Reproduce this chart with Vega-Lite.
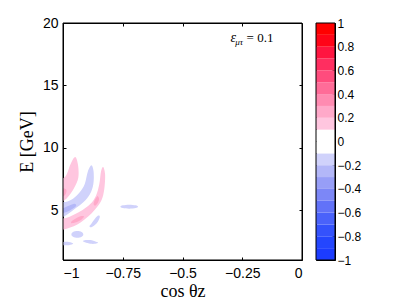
{
  "$schema": "https://vega.github.io/schema/vega-lite/v6.json",
  "padding": {"left": 17, "top": 15, "right": 5, "bottom": 0},
  "datasets": {
    "outer": [
      {"id": "P1", "i": 0, "x": -0.949, "y": 9.25, "v": 0.15},
      {"id": "P1", "i": 1, "x": -0.937, "y": 8.6, "v": 0.15},
      {"id": "P1", "i": 2, "x": -0.936, "y": 7.6, "v": 0.15},
      {"id": "P1", "i": 3, "x": -0.953, "y": 6.8, "v": 0.15},
      {"id": "P1", "i": 4, "x": -0.975, "y": 6.15, "v": 0.15},
      {"id": "P1", "i": 5, "x": -0.998, "y": 5.75, "v": 0.15},
      {"id": "P1", "i": 6, "x": -1.03, "y": 5.6, "v": 0.15},
      {"id": "P1", "i": 7, "x": -1.03, "y": 7.2, "v": 0.15},
      {"id": "P1", "i": 8, "x": -0.99, "y": 7.7, "v": 0.15},
      {"id": "P1", "i": 9, "x": -0.968, "y": 8.7, "v": 0.15},
      {"id": "B1", "i": 0, "x": -0.881, "y": 8.6, "v": -0.15},
      {"id": "B1", "i": 1, "x": -0.872, "y": 8.1, "v": -0.15},
      {"id": "B1", "i": 2, "x": -0.873, "y": 7.1, "v": -0.15},
      {"id": "B1", "i": 3, "x": -0.887, "y": 6.3, "v": -0.15},
      {"id": "B1", "i": 4, "x": -0.915, "y": 5.62, "v": -0.15},
      {"id": "B1", "i": 5, "x": -0.95, "y": 5.1, "v": -0.15},
      {"id": "B1", "i": 6, "x": -0.978, "y": 4.7, "v": -0.15},
      {"id": "B1", "i": 7, "x": -1.0, "y": 4.45, "v": -0.15},
      {"id": "B1", "i": 8, "x": -1.03, "y": 4.4, "v": -0.15},
      {"id": "B1", "i": 9, "x": -1.03, "y": 5.6, "v": -0.15},
      {"id": "B1", "i": 10, "x": -0.99, "y": 5.65, "v": -0.15},
      {"id": "B1", "i": 11, "x": -0.958, "y": 5.92, "v": -0.15},
      {"id": "B1", "i": 12, "x": -0.93, "y": 6.43, "v": -0.15},
      {"id": "B1", "i": 13, "x": -0.909, "y": 7.1, "v": -0.15},
      {"id": "B1", "i": 14, "x": -0.896, "y": 8.1, "v": -0.15},
      {"id": "P2", "i": 0, "x": -0.832, "y": 8.45, "v": 0.15},
      {"id": "P2", "i": 1, "x": -0.824, "y": 7.9, "v": 0.15},
      {"id": "P2", "i": 2, "x": -0.826, "y": 6.9, "v": 0.15},
      {"id": "P2", "i": 3, "x": -0.835, "y": 6.0, "v": 0.15},
      {"id": "P2", "i": 4, "x": -0.855, "y": 5.3, "v": 0.15},
      {"id": "P2", "i": 5, "x": -0.88, "y": 4.75, "v": 0.15},
      {"id": "P2", "i": 6, "x": -0.91, "y": 4.25, "v": 0.15},
      {"id": "P2", "i": 7, "x": -0.94, "y": 3.85, "v": 0.15},
      {"id": "P2", "i": 8, "x": -0.97, "y": 3.6, "v": 0.15},
      {"id": "P2", "i": 9, "x": -1.0, "y": 3.42, "v": 0.15},
      {"id": "P2", "i": 10, "x": -1.03, "y": 3.35, "v": 0.15},
      {"id": "P2", "i": 11, "x": -1.03, "y": 4.3, "v": 0.15},
      {"id": "P2", "i": 12, "x": -0.99, "y": 4.35, "v": 0.15},
      {"id": "P2", "i": 13, "x": -0.955, "y": 4.62, "v": 0.15},
      {"id": "P2", "i": 14, "x": -0.918, "y": 5.0, "v": 0.15},
      {"id": "P2", "i": 15, "x": -0.885, "y": 5.5, "v": 0.15},
      {"id": "P2", "i": 16, "x": -0.862, "y": 6.16, "v": 0.15},
      {"id": "P2", "i": 17, "x": -0.848, "y": 7.1, "v": 0.15},
      {"id": "P2", "i": 18, "x": -0.841, "y": 8.1, "v": 0.15},
      {"id": "C", "i": 0, "x": -0.884, "y": 3.62, "v": -0.15},
      {"id": "C", "i": 1, "x": -0.872, "y": 3.72, "v": -0.15},
      {"id": "C", "i": 2, "x": -0.855, "y": 4.05, "v": -0.15},
      {"id": "C", "i": 3, "x": -0.846, "y": 4.45, "v": -0.15},
      {"id": "C", "i": 4, "x": -0.852, "y": 4.56, "v": -0.15},
      {"id": "C", "i": 5, "x": -0.865, "y": 4.35, "v": -0.15},
      {"id": "C", "i": 6, "x": -0.88, "y": 3.95, "v": -0.15},
      {"id": "C", "i": 7, "x": -0.889, "y": 3.72, "v": -0.15},
      {"id": "D", "i": 0, "x": -0.965, "y": 3.05, "v": -0.15},
      {"id": "D", "i": 1, "x": -0.958, "y": 3.24, "v": -0.15},
      {"id": "D", "i": 2, "x": -0.94, "y": 3.32, "v": -0.15},
      {"id": "D", "i": 3, "x": -0.922, "y": 3.24, "v": -0.15},
      {"id": "D", "i": 4, "x": -0.915, "y": 3.05, "v": -0.15},
      {"id": "D", "i": 5, "x": -0.922, "y": 2.86, "v": -0.15},
      {"id": "D", "i": 6, "x": -0.94, "y": 2.78, "v": -0.15},
      {"id": "D", "i": 7, "x": -0.958, "y": 2.86, "v": -0.15},
      {"id": "E", "i": 0, "x": -0.917, "y": 2.52, "v": -0.15},
      {"id": "E", "i": 1, "x": -0.905, "y": 2.6, "v": -0.15},
      {"id": "E", "i": 2, "x": -0.885, "y": 2.6, "v": -0.15},
      {"id": "E", "i": 3, "x": -0.862, "y": 2.47, "v": -0.15},
      {"id": "E", "i": 4, "x": -0.853, "y": 2.38, "v": -0.15},
      {"id": "E", "i": 5, "x": -0.865, "y": 2.3, "v": -0.15},
      {"id": "E", "i": 6, "x": -0.885, "y": 2.3, "v": -0.15},
      {"id": "E", "i": 7, "x": -0.908, "y": 2.42, "v": -0.15},
      {"id": "F", "i": 0, "x": -1.02, "y": 2.32, "v": -0.15},
      {"id": "F", "i": 1, "x": -1.0, "y": 2.45, "v": -0.15},
      {"id": "F", "i": 2, "x": -0.975, "y": 2.45, "v": -0.15},
      {"id": "F", "i": 3, "x": -0.957, "y": 2.32, "v": -0.15},
      {"id": "F", "i": 4, "x": -0.975, "y": 2.19, "v": -0.15},
      {"id": "F", "i": 5, "x": -1.0, "y": 2.19, "v": -0.15},
      {"id": "G", "i": 0, "x": -0.76, "y": 5.27, "v": -0.15},
      {"id": "G", "i": 1, "x": -0.75, "y": 5.38, "v": -0.15},
      {"id": "G", "i": 2, "x": -0.723, "y": 5.43, "v": -0.15},
      {"id": "G", "i": 3, "x": -0.696, "y": 5.38, "v": -0.15},
      {"id": "G", "i": 4, "x": -0.686, "y": 5.27, "v": -0.15},
      {"id": "G", "i": 5, "x": -0.696, "y": 5.16, "v": -0.15},
      {"id": "G", "i": 6, "x": -0.723, "y": 5.11, "v": -0.15},
      {"id": "G", "i": 7, "x": -0.75, "y": 5.16, "v": -0.15}
    ],
    "inner": [
      {"id": "P1d", "i": 0, "x": -1.02, "y": 6.05, "v": 0.25},
      {"id": "P1d", "i": 1, "x": -0.995, "y": 6.15, "v": 0.25},
      {"id": "P1d", "i": 2, "x": -0.986, "y": 6.45, "v": 0.25},
      {"id": "P1d", "i": 3, "x": -0.99, "y": 6.7, "v": 0.25},
      {"id": "P1d", "i": 4, "x": -1.02, "y": 6.7, "v": 0.25},
      {"id": "B1d", "i": 0, "x": -1.02, "y": 4.7, "v": -0.25},
      {"id": "B1d", "i": 1, "x": -0.985, "y": 4.85, "v": -0.25},
      {"id": "B1d", "i": 2, "x": -0.96, "y": 5.1, "v": -0.25},
      {"id": "B1d", "i": 3, "x": -0.945, "y": 5.35, "v": -0.25},
      {"id": "B1d", "i": 4, "x": -0.952, "y": 5.5, "v": -0.25},
      {"id": "B1d", "i": 5, "x": -0.975, "y": 5.35, "v": -0.25},
      {"id": "B1d", "i": 6, "x": -1.0, "y": 5.15, "v": -0.25},
      {"id": "B1d", "i": 7, "x": -1.02, "y": 5.1, "v": -0.25},
      {"id": "Pa", "i": 0, "x": -0.853, "y": 6.1, "v": 0.25},
      {"id": "Pa", "i": 1, "x": -0.849, "y": 5.85, "v": 0.25},
      {"id": "Pa", "i": 2, "x": -0.857, "y": 5.5, "v": 0.25},
      {"id": "Pa", "i": 3, "x": -0.866, "y": 5.35, "v": 0.25},
      {"id": "Pa", "i": 4, "x": -0.872, "y": 5.5, "v": 0.25},
      {"id": "Pa", "i": 5, "x": -0.866, "y": 5.85, "v": 0.25},
      {"id": "Pa", "i": 6, "x": -0.858, "y": 6.08, "v": 0.25},
      {"id": "Pb", "i": 0, "x": -0.965, "y": 3.95, "v": 0.25},
      {"id": "Pb", "i": 1, "x": -0.945, "y": 4.02, "v": 0.25},
      {"id": "Pb", "i": 2, "x": -0.922, "y": 4.25, "v": 0.25},
      {"id": "Pb", "i": 3, "x": -0.912, "y": 4.48, "v": 0.25},
      {"id": "Pb", "i": 4, "x": -0.922, "y": 4.52, "v": 0.25},
      {"id": "Pb", "i": 5, "x": -0.945, "y": 4.35, "v": 0.25},
      {"id": "Pb", "i": 6, "x": -0.963, "y": 4.12, "v": 0.25}
    ],
    "bar": [
      {"lo": -1.0, "hi": -0.9, "mid": -0.95},
      {"lo": -0.9, "hi": -0.8, "mid": -0.85},
      {"lo": -0.8, "hi": -0.7, "mid": -0.75},
      {"lo": -0.7, "hi": -0.6, "mid": -0.65},
      {"lo": -0.6, "hi": -0.5, "mid": -0.55},
      {"lo": -0.5, "hi": -0.4, "mid": -0.45},
      {"lo": -0.4, "hi": -0.3, "mid": -0.35},
      {"lo": -0.3, "hi": -0.2, "mid": -0.25},
      {"lo": -0.2, "hi": -0.1, "mid": -0.15},
      {"lo": -0.1, "hi": 0.0, "mid": -0.05},
      {"lo": 0.0, "hi": 0.1, "mid": 0.05},
      {"lo": 0.1, "hi": 0.2, "mid": 0.15},
      {"lo": 0.2, "hi": 0.3, "mid": 0.25},
      {"lo": 0.3, "hi": 0.4, "mid": 0.35},
      {"lo": 0.4, "hi": 0.5, "mid": 0.45},
      {"lo": 0.5, "hi": 0.6, "mid": 0.55},
      {"lo": 0.6, "hi": 0.7, "mid": 0.65},
      {"lo": 0.7, "hi": 0.8, "mid": 0.75},
      {"lo": 0.8, "hi": 0.9, "mid": 0.85},
      {"lo": 0.9, "hi": 1.0, "mid": 0.95}
    ]
  },
  "config": {
    "view": {"stroke": "black", "strokeWidth": 1},
    "axis": {
      "labelFont": "Liberation Sans",
      "labelColor": "black",
      "labelFontSize": 14,
      "tickColor": "black",
      "grid": false,
      "domain": false,
      "titleFont": "Liberation Serif",
      "titleFontWeight": "normal",
      "titleColor": "black",
      "titleFontSize": 18
    }
  },
  "spacing": 12,
  "hconcat": [
    {
      "width": 239,
      "height": 237,
      "resolve": {"axis": {"x": "independent", "y": "independent"}},
      "layer": [
        {
          "data": {"name": "outer"},
          "mark": {"type": "line", "filled": true, "interpolate": "cardinal-closed", "clip": true, "strokeWidth": 0},
          "encoding": {
            "x": {"field": "x", "type": "quantitative", "scale": {"domain": [-1, 0], "nice": false, "zero": false},
                  "axis": {"values": [-1, -0.75, -0.5, -0.25, 0], "format": ".2~f", "tickSize": -3, "labelPadding": 9, "title": "cos θz", "titlePadding": 2}},
            "y": {"field": "y", "type": "quantitative", "scale": {"domain": [1, 20], "nice": false, "zero": false},
                  "axis": {"values": [5, 10, 15, 20], "format": "d", "tickSize": -3, "labelPadding": 8, "title": "E [GeV]", "titlePadding": 6}},
            "color": {"field": "v", "type": "quantitative", "legend": null,
                      "scale": {"type": "threshold", "domain": [-0.9, -0.8, -0.7, -0.6, -0.5, -0.4, -0.3, -0.2, -0.1, 0, 0.1, 0.2, 0.3, 0.4, 0.5, 0.6, 0.7, 0.8, 0.9],
                                "range": ["#1c3cff", "#2446fe", "#3452fc", "#4a62fa", "#6272f8", "#7c87f7", "#979ef7", "#b3b7f8", "#d0d2fb", "#ffffff", "#ffffff", "#ffc6df", "#ffa9c9", "#ff8bb1", "#ff6c98", "#ff4c7d", "#ff2e60", "#ff1540", "#ff0418", "#ff0000"]}},
            "detail": {"field": "id", "type": "nominal"},
            "order": {"field": "i", "type": "quantitative"}
          }
        },
        {
          "data": {"name": "inner"},
          "mark": {"type": "line", "filled": true, "interpolate": "cardinal-closed", "clip": true, "strokeWidth": 0},
          "encoding": {
            "x": {"field": "x", "type": "quantitative", "axis": null},
            "y": {"field": "y", "type": "quantitative", "axis": null},
            "color": {"field": "v", "type": "quantitative", "legend": null,
                      "scale": {"type": "threshold", "domain": [-0.9, -0.8, -0.7, -0.6, -0.5, -0.4, -0.3, -0.2, -0.1, 0, 0.1, 0.2, 0.3, 0.4, 0.5, 0.6, 0.7, 0.8, 0.9],
                                "range": ["#1c3cff", "#2446fe", "#3452fc", "#4a62fa", "#6272f8", "#7c87f7", "#979ef7", "#b3b7f8", "#d0d2fb", "#ffffff", "#ffffff", "#ffc6df", "#ffa9c9", "#ff8bb1", "#ff6c98", "#ff4c7d", "#ff2e60", "#ff1540", "#ff0418", "#ff0000"]}},
            "detail": {"field": "id", "type": "nominal"},
            "order": {"field": "i", "type": "quantitative"}
          }
        },
        {
          "data": {"values": [{"x0": -1, "x1": 0, "y0": 1, "y1": 20}]},
          "mark": {"type": "rect", "fill": null, "stroke": "black", "strokeWidth": 1},
          "encoding": {
            "x": {"field": "x0", "type": "quantitative", "axis": null},
            "x2": {"field": "x1"},
            "y": {"field": "y0", "type": "quantitative", "axis": null},
            "y2": {"field": "y1"}
          }
        },
        {
          "data": {"values": [{"x": -0.299, "y": 18.45, "t": "ε"}]},
          "mark": {"type": "text", "font": "Liberation Serif", "fontStyle": "italic", "fontSize": 14, "align": "left", "baseline": "alphabetic", "color": "black"},
          "encoding": {
            "x": {"field": "x", "type": "quantitative", "axis": null},
            "y": {"field": "y", "type": "quantitative", "axis": null},
            "text": {"field": "t"}
          }
        },
        {
          "data": {"values": [{"x": -0.279, "y": 18.2, "t": "μτ"}]},
          "mark": {"type": "text", "font": "Liberation Serif", "fontStyle": "italic", "fontSize": 9, "align": "left", "baseline": "alphabetic", "color": "black"},
          "encoding": {
            "x": {"field": "x", "type": "quantitative", "axis": null},
            "y": {"field": "y", "type": "quantitative", "axis": null},
            "text": {"field": "t"}
          }
        },
        {
          "data": {"values": [{"x": -0.232, "y": 18.45, "t": "= 0.1"}]},
          "mark": {"type": "text", "font": "Liberation Serif", "fontSize": 13, "align": "left", "baseline": "alphabetic", "color": "black"},
          "encoding": {
            "x": {"field": "x", "type": "quantitative", "axis": {"orient": "top", "values": [-0.75, -0.5, -0.25], "labels": false, "title": null, "tickSize": -3}},
            "y": {"field": "y", "type": "quantitative", "axis": {"orient": "right", "values": [5, 10, 15], "labels": false, "title": null, "tickSize": -3}},
            "text": {"field": "t"}
          }
        }
      ]
    },
    {
      "width": 19,
      "height": 237,
      "resolve": {"axis": {"y": "independent"}},
      "layer": [
        {
          "data": {"name": "bar"},
          "mark": {"type": "rect"},
          "encoding": {
            "y": {"field": "lo", "type": "quantitative", "scale": {"domain": [-1, 1], "nice": false, "zero": false},
                  "axis": {"orient": "right", "values": [-1, -0.8, -0.6, -0.4, -0.2, 0, 0.2, 0.4, 0.6, 0.8, 1], "format": ".1~f", "labelFontSize": 12, "labelOverlap": false, "tickSize": -3, "labelPadding": 5, "title": null}},
            "y2": {"field": "hi"},
            "color": {"field": "mid", "type": "quantitative", "legend": null,
                      "scale": {"type": "threshold", "domain": [-0.9, -0.8, -0.7, -0.6, -0.5, -0.4, -0.3, -0.2, -0.1, 0, 0.1, 0.2, 0.3, 0.4, 0.5, 0.6, 0.7, 0.8, 0.9],
                                "range": ["#1c3cff", "#2446fe", "#3452fc", "#4a62fa", "#6272f8", "#7c87f7", "#979ef7", "#b3b7f8", "#d0d2fb", "#ffffff", "#ffffff", "#ffc6df", "#ffa9c9", "#ff8bb1", "#ff6c98", "#ff4c7d", "#ff2e60", "#ff1540", "#ff0418", "#ff0000"]}}
          }
        },
        {
          "data": {"values": [{"lo": -1, "hi": 1}]},
          "mark": {"type": "rect", "fill": null, "stroke": "black", "strokeWidth": 1},
          "encoding": {
            "y": {"field": "lo", "type": "quantitative", "axis": null},
            "y2": {"field": "hi"}
          }
        }
      ]
    }
  ]
}
